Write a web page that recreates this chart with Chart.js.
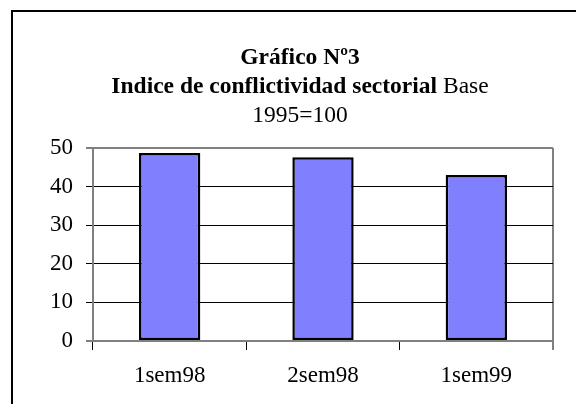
<!DOCTYPE html>
<html>
<head>
<meta charset="utf-8">
<script src="https://cdn.jsdelivr.net/npm/chart.js@4/dist/chart.umd.min.js"></script>
<style>
    html, body { margin: 0; padding: 0; background: #fff; }
    #wrap { position: relative; width: 576px; height: 404px; overflow: hidden; background: #fff; }
    #frame { position: absolute; left: 11px; top: 10px; right: -10px; bottom: -10px;
             border-left: 2px solid #000; border-top: 2px solid #000; }
    #chart { position: absolute; left: 0; top: 0; }
    #title { position: absolute; left: 0; top: 42px; width: 600px; text-align: center;
             font-family: "Liberation Serif", "Times New Roman", serif; font-size: 23.5px;
             line-height: 29px; color: #000; }
    #title b { font-weight: bold; }
</style>
</head>
<body>
<div id="wrap">
    <div id="frame"></div>
    <canvas id="chart" width="576" height="404"></canvas>
    <div id="title">
        <div><b>Gráfico Nº3</b></div>
        <div><b>Indice de conflictividad sectorial</b> Base</div>
        <div>1995=100</div>
    </div>
</div>
<script>
// 데이터
const categories = ['1sem98', '2sem98', '1sem99'];
const indexValues = [48.7, 47.6, 43.0];
const yTicks = [0, 10, 20, 30, 40, 50];

const serif = '"Liberation Serif", "Times New Roman", serif';
const frameGrey = '#808080';

document.addEventListener('DOMContentLoaded', function() {
    const canvas = document.getElementById('chart');

    new Chart(canvas, {
        type: 'bar',
        data: {
            labels: categories,
            datasets: [{
                label: 'Indice',
                data: indexValues,
                backgroundColor: '#8080ff',
                borderColor: '#000',
                borderWidth: 2.5,
                borderSkipped: false,
                barPercentage: 0.4,
                categoryPercentage: 1.0
            }]
        },
        options: {
            responsive: false,
            animation: false,
            devicePixelRatio: 1,
            layout: {
                padding: { left: 0, top: 148, right: 23, bottom: 0 }
            },
            plugins: {
                legend: { display: false },
                title: { display: false },
                tooltip: { enabled: false }
            },
            scales: {
                x: {
                    offset: true,
                    afterFit: function(scale) { scale.height = 63; },
                    grid: {
                        offset: true,
                        // 마지막 선만 오른쪽 테두리로 사용
                        color: ctx => ctx.type === 'tick' ? 'rgba(0,0,0,0)' : frameGrey,
                        lineWidth: ctx => ctx.type === 'tick' ? 1 : 2,
                        tickColor: '#000',
                        tickWidth: 1,
                        tickLength: 9
                    },
                    border: { color: frameGrey, width: 2 },
                    ticks: {
                        color: '#000',
                        padding: 12,
                        maxRotation: 0,
                        font: { family: serif, size: 23 }
                    }
                },
                y: {
                    min: 0,
                    max: 50,
                    afterFit: function(scale) { scale.width = 93; },
                    afterBuildTicks: function(scale) {
                        scale.ticks = yTicks.map(v => ({ value: v }));
                    },
                    grid: {
                        color: ctx => (ctx.tick && (ctx.tick.value === 0 || ctx.tick.value === 50)) ? frameGrey : '#000',
                        lineWidth: ctx => (ctx.tick && (ctx.tick.value === 0 || ctx.tick.value === 50)) ? 2 : 1,
                        tickColor: '#000',
                        tickWidth: 1,
                        tickLength: 7
                    },
                    border: { color: frameGrey, width: 2 },
                    ticks: {
                        color: '#000',
                        padding: 13,
                        font: { family: serif, size: 23 }
                    }
                }
            }
        }
    });
});
</script>
</body>
</html>
